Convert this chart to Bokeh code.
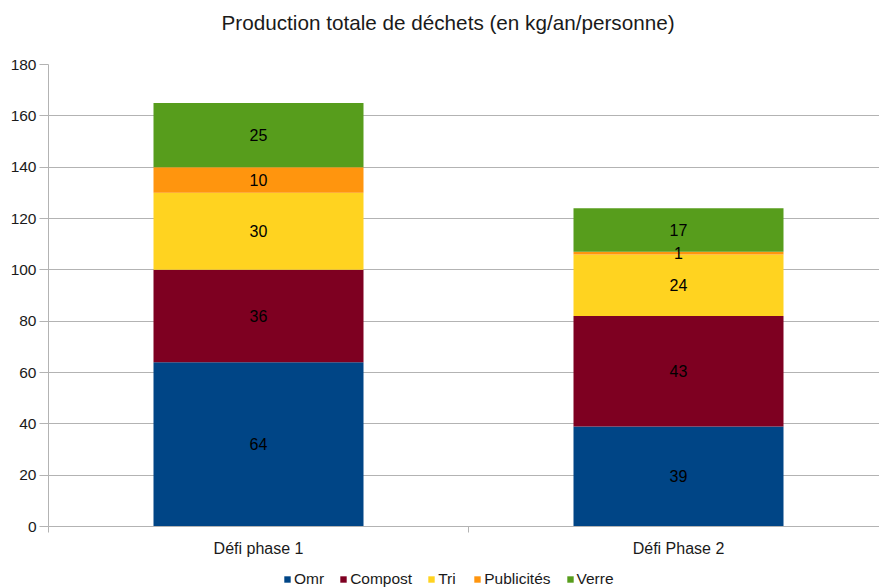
from bokeh.plotting import figure
from bokeh.layouts import column
from bokeh.models import ColumnDataSource, FixedTicker, Legend, LegendItem, Label
from bokeh.core.properties import value
from bokeh.embed import file_html
from bokeh.resources import INLINE

title_text = "Production totale de déchets (en kg/an/personne)"
categories = ["Défi phase 1", "Défi Phase 2"]
series = ["Omr", "Compost", "Tri", "Publicités", "Verre"]
omr = [64, 39]
compost = [36, 43]
tri = [30, 24]
pub = [10, 1]
verre = [25, 17]
colors = ["#004586", "#7e0021", "#ffd320", "#ff950e", "#579d1c"]
y_ticks = [0, 20, 40, 60, 80, 100, 120, 140, 160, 180]

values = [omr, compost, tri, pub, verre]
xs = [i + 0.5 for i in range(len(categories))]

data = {"x": xs}
for name, vals in zip(series, values):
    data[name] = vals
source = ColumnDataSource(data)

FONT = "Liberation Sans"
TXT = "#1a1a1a"
GRID = "#b3b3b3"


def strip(height):
    f = figure(width=879, height=height, output_backend="svg", toolbar_location=None,
               x_range=(0, 1), y_range=(0, 1),
               x_axis_location=None, y_axis_location=None,
               min_border=0, min_border_left=0, min_border_right=0,
               min_border_top=0, min_border_bottom=0)
    f.outline_line_color = None
    f.xgrid.grid_line_color = None
    f.ygrid.grid_line_color = None
    return f


# title strip
top = strip(40)
top.add_layout(Label(x=173, y=18, x_units="screen", y_units="screen", text=title_text,
                     text_font=FONT, text_font_size="20.7px", text_color=TXT,
                     text_align="left", text_baseline="middle"), "center")

# main chart
p = figure(width=879, height=520, output_backend="svg", toolbar_location=None,
           x_range=(0, 831 / 420), y_range=(0, 180),
           min_border_left=48, min_border_right=0, min_border_top=24, min_border_bottom=34)
p.outline_line_color = None

renderers = p.vbar_stack(series, x="x", width=0.5, source=source, color=colors, line_color=None)

# segment labels
lx, ly, lt = [], [], []
for j, x in enumerate(xs):
    base = 0
    for vals in values:
        v = vals[j]
        lx.append(x)
        ly.append(base + v / 2)
        lt.append(str(v))
        base += v
p.text(x=lx, y=ly, text=lt, text_align="center", text_baseline="middle",
       text_font=value(FONT), text_font_size="16px", text_color="#000000")

# axes
p.yaxis.ticker = FixedTicker(ticks=y_ticks)
p.yaxis.axis_line_color = GRID
p.yaxis.major_tick_line_color = GRID
p.yaxis.major_tick_out = 9
p.yaxis.major_tick_in = 0
p.yaxis.minor_tick_line_color = None
p.yaxis.major_label_text_font = FONT
p.yaxis.major_label_text_font_size = "15.5px"
p.yaxis.major_label_text_color = TXT
p.yaxis.major_label_standoff = 3

p.xaxis.ticker = FixedTicker(ticks=xs, minor_ticks=[0, 1, 2])
p.xaxis.major_label_overrides = {x: c for x, c in zip(xs, categories)}
p.xaxis.axis_line_color = GRID
p.xaxis.major_tick_line_color = None
p.xaxis.minor_tick_line_color = GRID
p.xaxis.minor_tick_out = 6
p.xaxis.minor_tick_in = 0
p.xaxis.major_label_text_font = FONT
p.xaxis.major_label_text_font_size = "16px"
p.xaxis.major_label_text_color = TXT
p.xaxis.major_label_standoff = 7

p.xgrid.grid_line_color = None
p.ygrid.grid_line_color = GRID

# legend strip below the chart (swatches only; the bars themselves live in p)
lg = strip(28)
dummy = [lg.vbar(x=[0.5], top=[0], bottom=[0], width=0, color=c, line_color=None) for c in colors]
legend = Legend(items=[LegendItem(label=s, renderers=[r]) for s, r in zip(series, dummy)],
                orientation="horizontal", location=(235, 0),
                label_text_font=FONT, label_text_font_size="15.5px", label_text_color=TXT,
                glyph_width=8, glyph_height=8, spacing=15, label_standoff=3, label_height=18,
                padding=0, margin=0, border_line_color=None, background_fill_alpha=0)
lg.add_layout(legend, "center")

layout = column(top, p, lg, spacing=0)
open("out.html", "w").write(file_html(layout, INLINE))
